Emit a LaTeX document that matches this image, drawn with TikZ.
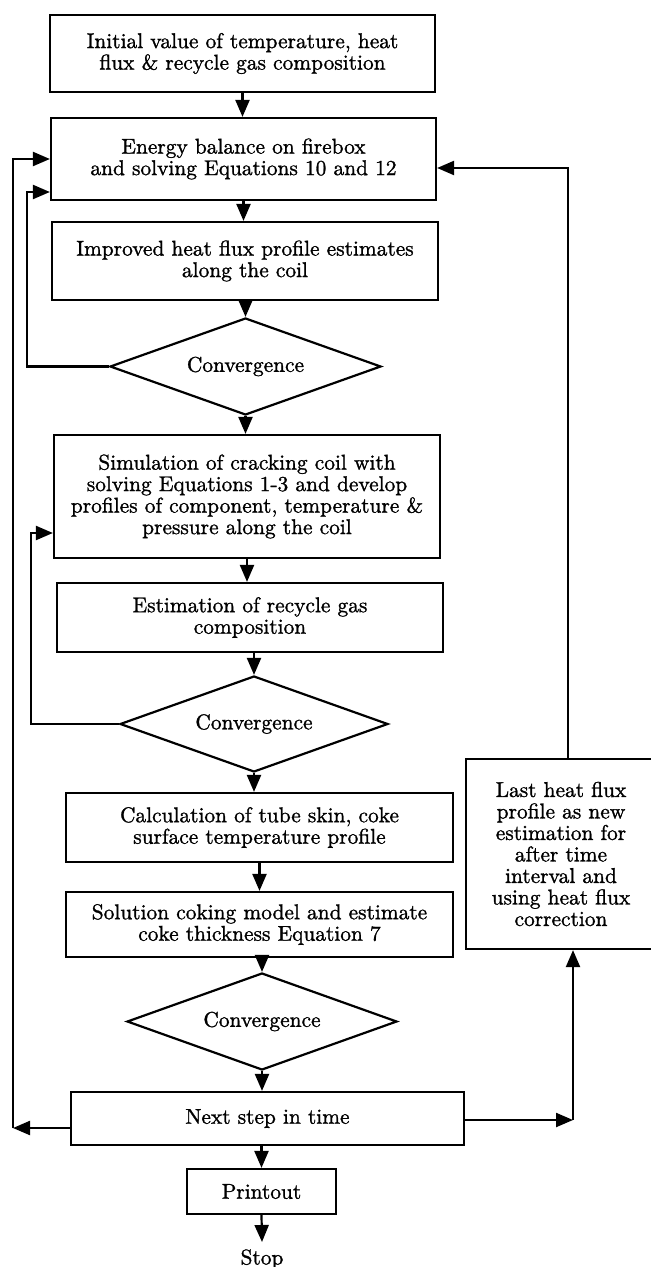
\documentclass[tikz,border=0pt]{standalone}
\usepackage{fontspec}
\usetikzlibrary{shapes.geometric,arrows.meta}
\newfontfamily\scanfont{lmroman10-regular.otf}[FakeBold=1.2]
\newcommand\fs{\scanfont\fontsize{10.7}{10.75}\selectfont}
\newcommand\pxu{0.5pt}
\tikzset{
  box/.style={draw, line width=1.1pt, align=center, inner sep=0pt, font=\fs},
  dia/.style={draw, diamond, line width=1.1pt, inner sep=0pt, font=\fs},
  arr/.style={-{Triangle[length=8.5pt,width=7pt]}, line width=1.1pt},
  ln/.style={line width=1.1pt}
}
\begin{document}
\begin{tikzpicture}[x=0.5pt,y=-0.5pt]
\path[use as bounding box] (0,0) rectangle (651,1267);
\clip (0,0) rectangle (651,1267);

\node[box, minimum width={385*\pxu}, minimum height={77*\pxu}] (B1) at (242.5,53.5)
  {Initial value of temperature, heat\\flux \& recycle gas composition};
\node[box, minimum width={385*\pxu}, minimum height={82*\pxu}] (B2) at (243.5,159)
  {Energy balance on firebox\\and solving Equations 10 and 12};
\node[box, minimum width={386*\pxu}, minimum height={78*\pxu}] (B3) at (245,261)
  {Improved heat flux profile estimates\\along the coil};
\node[dia, aspect=2.79, minimum width={271*\pxu}, minimum height={97*\pxu}] (D1) at (245.5,366.5) {Convergence};
\node[box, minimum width={386*\pxu}, minimum height={123*\pxu}] (B4) at (247,496.5)
  {Simulation of cracking coil with\\solving Equations 1-3 and develop\\profiles of component, temperature \&\\pressure along the coil};
\node[box, minimum width={386*\pxu}, minimum height={69*\pxu}] (B5) at (250,617.5)
  {Estimation of recycle gas\\composition};
\node[dia, aspect=2.79, minimum width={268*\pxu}, minimum height={96*\pxu}] (D2) at (254,724) {Convergence};
\node[box, minimum width={387*\pxu}, minimum height={69*\pxu}] (B6) at (259.5,827.5)
  {Calculation of tube skin, coke\\surface temperature profile};
\node[box, minimum width={387*\pxu}, minimum height={65*\pxu}] (B7) at (259.5,924.5)
  {Solution coking model and estimate\\coke thickness Equation 7};
\node[dia, aspect=2.78, minimum width={270*\pxu}, minimum height={97*\pxu}] (D3) at (262,1021.5) {Convergence};
\node[box, minimum width={393*\pxu}, minimum height={53*\pxu}] (B8) at (267.5,1118.5)
  {Next step in time};
\node[box, minimum width={149*\pxu}, minimum height={45*\pxu}] (B9) at (261.5,1191.5)
  {Printout};
\node[box, minimum width={190*\pxu}, minimum height={190*\pxu}] (S) at (561,854)
  {Last heat flux\\profile as new\\estimation for\\after time\\interval and\\using heat flux\\correction};
\node[font=\fs, inner sep=0pt, anchor=north] (stop) at (262,1249) {Stop};

% main vertical flow
\draw[arr] (B1.south) -- (B1.south |- B2.north);
\draw[arr] (B2.south) -- (B2.south |- B3.north);
\draw[arr] (B3.south -| D1.north) -- (D1.north);
\draw[arr] (D1.south) -- (D1.south |- B4.north);
\draw[arr] (B4.south) -- (B4.south |- B5.north);
\draw[arr] (B5.south -| D2.north) -- (D2.north);
\draw[arr] (D2.south) -- (D2.south |- B6.north);
\draw[arr] (B6.south) -- (B6.south |- B7.north);
\draw[arr] (B7.south -| D3.north) -- (D3.north);
\draw[arr] (D3.south) -- (D3.south |- B8.north);
\draw[arr] (B8.south -| B9.north) -- (B9.north);
\draw[arr] (B9.south) -- ([yshift=3.5pt]stop.north);

% loops
\coordinate (l1) at (27,192);
\draw[arr] (D1.west) -| (l1) -- (l1 -| B2.west);
\coordinate (l2) at (31,533);
\draw[arr] (D2.west) -| (l2) -- (l2 -| B4.west);
\coordinate (o1) at (13,1128);
\draw[arr] (B8.west |- o1) -- (o1);
\draw[arr] (o1) -- (o1 |- B2.west) -- (B2.west);
\coordinate (r1) at (573,1120);
\draw[arr] (B8.east |- r1) -- (r1);
\draw[arr] (r1) -- (r1 |- S.south);
\coordinate (r2) at (568,168);
\draw[arr] (S.north -| r2) -- (r2) -- (r2 -| B2.east);
\end{tikzpicture}
\end{document}
